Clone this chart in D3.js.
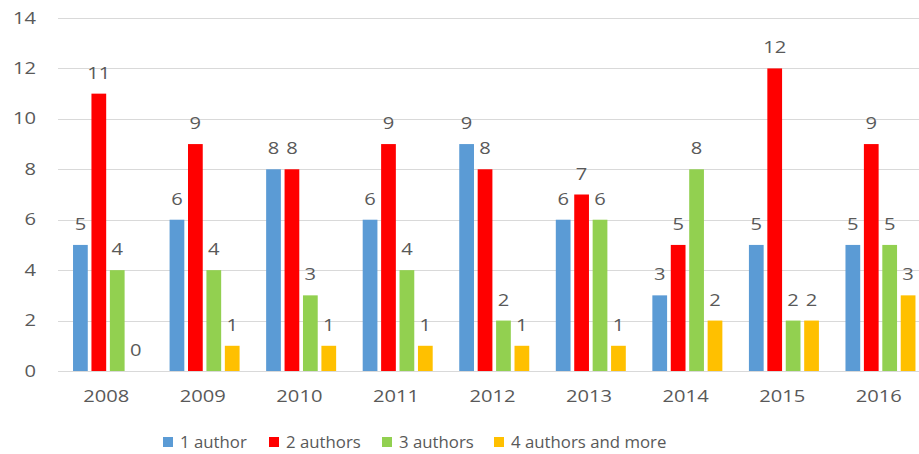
<!DOCTYPE html>
<html>
<head>
<meta charset="utf-8">
<script src="https://cdn.jsdelivr.net/npm/d3@7"></script>
<style>
  html, body { margin: 0; padding: 0; background: #fff; }
  svg text { font-family: "Open Sans", sans-serif; fill: #595959; }
</style>
</head>
<body>
<svg id="chart" width="919" height="454"></svg>
<script>
const years = ["2008", "2009", "2010", "2011", "2012", "2013", "2014", "2015", "2016"];
const seriesNames = ["1 author", "2 authors", "3 authors", "4 authors and more"];
const oneAuthor = [5, 6, 8, 6, 9, 6, 3, 5, 5];
const twoAuthors = [11, 9, 8, 9, 8, 7, 5, 12, 9];
const threeAuthors = [4, 4, 3, 4, 2, 6, 8, 2, 5];
const fourPlus = [0, 1, 1, 1, 1, 1, 2, 2, 3];
const yTicks = [0, 2, 4, 6, 8, 10, 12, 14];
const colors = ["#5B9BD5", "#FF0000", "#92D050", "#FFC000"];

const seriesValues = [oneAuthor, twoAuthors, threeAuthors, fourPlus];
const STRETCH = 1.3;

const svg = d3.select("#chart");
// the plot area runs past the right edge of the picture (cropped)
const margin = { left: 58, top: 18, bottom: 83 };
const width = 869;
const height = 454 - margin.top - margin.bottom;

const g = svg.append("g").attr("transform", `translate(${margin.left},${margin.top})`);

const x0 = d3.scaleBand().domain(years).range([0, width]).padding(0);
const step = 17.5;
const groupW = step * 4;
const x1 = d3.scaleBand().domain(seriesNames).range([0, groupW]).paddingInner(3.5 / step).paddingOuter(0);
const y = d3.scaleLinear().domain([0, 14]).range([height, 0]);

function stretchedText(sel, tx, ty, txt, anchor) {
  return sel.append("text")
    .attr("transform", `translate(${tx},${ty}) scale(${STRETCH},1)`)
    .attr("text-anchor", anchor || "middle")
    .style("font-size", "15.5px")
    .text(txt);
}

// grid
g.append("g").selectAll("line").data(yTicks).join("line")
  .attr("x1", 0).attr("x2", width)
  .attr("y1", d => Math.round(y(d)) + 0.5).attr("y2", d => Math.round(y(d)) + 0.5)
  .attr("stroke", "#d9d9d9").attr("stroke-width", 1);

// y tick labels
yTicks.forEach(t => stretchedText(g, -22, y(t) + 5.5, String(t), "end"));

// bars
const groups = g.append("g").selectAll("g").data(years).join("g")
  .attr("transform", d => `translate(${x0(d) + (x0.bandwidth() - groupW + 3.5) / 2},0)`);

groups.each(function (yr, i) {
  const grp = d3.select(this);
  seriesNames.forEach((s, k) => {
    const v = seriesValues[k][i];
    grp.append("rect")
      .attr("x", x1(s))
      .attr("y", y(v))
      .attr("width", x1.bandwidth())
      .attr("height", height - y(v))
      .attr("fill", colors[k]);
    stretchedText(grp, x1(s) + x1.bandwidth() / 2, y(v) - 15, String(v));
  });
});

// x labels
years.forEach(yr => stretchedText(g, x0(yr) + x0.bandwidth() / 2, height + 31, yr));

// legend
const legendX = [163, 269, 382, 494];
const legend = svg.append("g");
seriesNames.forEach((s, k) => {
  legend.append("rect")
    .attr("x", legendX[k]).attr("y", 437)
    .attr("width", 10).attr("height", 10)
    .attr("fill", colors[k]);
  legend.append("text")
    .attr("transform", `translate(${legendX[k] + 17},448) scale(1.05,1)`)
    .style("font-size", "16px")
    .text(s);
});
</script>
</body>
</html>
